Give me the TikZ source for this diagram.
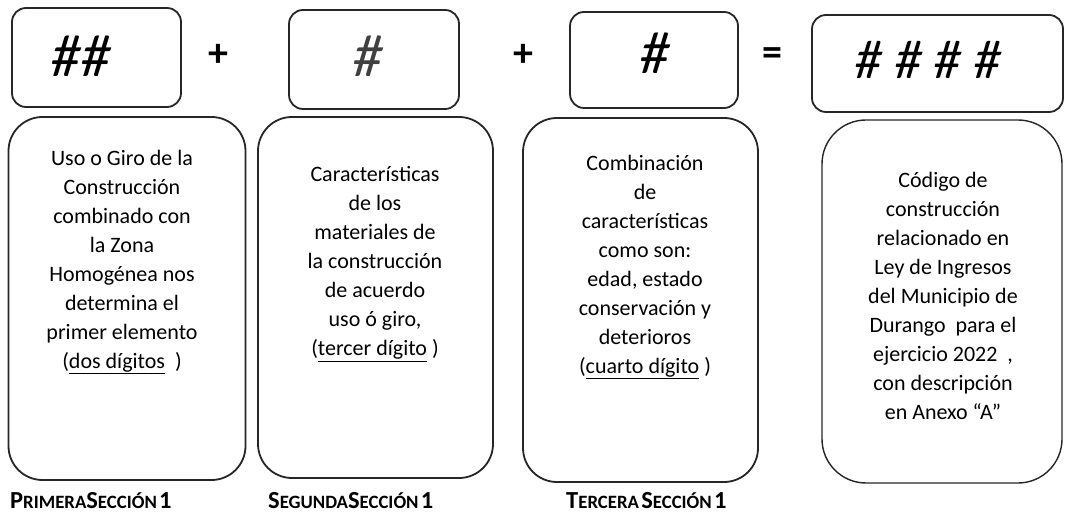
\documentclass[tikz,border=0pt]{standalone}
\usepackage{fontspec}
\setmainfont{Carlito}
\begin{document}
\begin{tikzpicture}[x=1pt,y=-1pt,
  topbox/.style={draw=black!85, line width=1.8pt, rounded corners=14pt, inner sep=0pt},
  botbox/.style={draw=black!85, line width=1.8pt, rounded corners=34pt, inner sep=0pt},
  body/.style={align=center, font=\fontsize{22}{29}\selectfont, inner sep=0pt},
  hashtxt/.style={font=\fontsize{60}{60}\selectfont, inner sep=0pt, xslant=0.12},
  optxt/.style={font=\bfseries\fontsize{40}{40}\selectfont, inner sep=0pt},
  seclbl/.style={font=\bfseries, anchor=west, inner sep=0pt}]
\useasboundingbox (0,0) rectangle (1065,518);
\newcommand{\scp}[2]{{\fontsize{24.5}{24.5}\selectfont #1}{\fontsize{18.8}{18.8}\selectfont #2}}
% top boxes
\node[topbox, minimum width=169pt, minimum height=99pt] (t1) at (96.5,57.5) {};
\node[topbox, minimum width=170pt, minimum height=99pt] (t2) at (374,59.5) {};
\node[topbox, minimum width=168pt, minimum height=96pt] (t3) at (654,60) {};
\node[topbox, minimum width=251pt, minimum height=97pt] (t4) at (937.5,63.5) {};
\node[hashtxt] (h1) at (82,56) {\#\#};
\node[hashtxt, text=black!75] (h2) at (369,56) {\#};
\node[hashtxt] (h3) at (656,53) {\#};
\node[hashtxt, font=\fontsize{55}{55}\selectfont] (h4) at (929,60) {\# \# \# \#};
\node[optxt] (p1) at (218,55) {+};
\node[optxt] (p2) at (523,55) {+};
\node[optxt] (eq) at (772,57) {=};
% bottom boxes
\node[botbox, minimum width=237pt, minimum height=363pt] (b1) at (127,298.5) {};
\node[botbox, minimum width=235pt, minimum height=361pt] (b2) at (375.5,297.5) {};
\node[botbox, minimum width=235pt, minimum height=364pt] (b3) at (640.5,300) {};
\node[botbox, rounded corners=44pt, line width=1.4pt, minimum width=240pt, minimum height=363pt] (b4) at (942,301.5) {};
\node[body] (x1) at (122,262) {Uso o Giro de la\\Construcción\\combinado con\\la Zona\\Homogénea nos\\determina el\\primer elemento\\(\underline{dos dígitos}\ \ )};
\node[body] (x2) at (375,264) {Características\\de los\\materiales de\\la construcción\\de acuerdo\\uso ó giro,\\(\underline{tercer dígito}\ )};
\node[body] (x3) at (645,267) {Combinación\\de\\características\\como son:\\edad, estado\\conservación y\\deterioros\\(\underline{cuarto dígito}\ )};
\node[body] (x4) at (943,296) {Código de\\construcción\\relacionado en\\Ley de Ingresos\\del Municipio de\\Durango\ \ para el\\ejercicio 2022\ \ ,\\con descripción\\en Anexo “A”};
% section labels
\node[seclbl] (s1) at (10,501) {\scp{P}{RIMERA}\scp{S}{ECCIÓN} \scp{1}{}};
\node[seclbl] (s2) at (268,501) {\scp{S}{EGUNDA}\scp{S}{ECCIÓN} \scp{1}{}};
\node[seclbl] (s3) at (566,501) {\scp{T}{ERCERA} \scp{S}{ECCIÓN} \scp{1}{}};
\end{tikzpicture}
\end{document}
